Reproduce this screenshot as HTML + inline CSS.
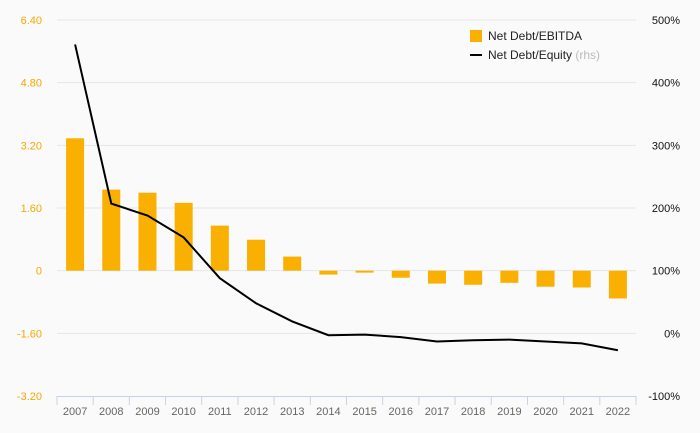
<!DOCTYPE html>
<html><head><meta charset="utf-8"><style>
body{margin:0;background:#fafafa;font-family:"Liberation Sans",sans-serif}
svg{display:block}
</style></head><body>
<svg id="c" width="700" height="433"></svg>
<script>
const categories=["2007","2008","2009","2010","2011","2012","2013","2014","2015","2016","2017","2018","2019","2020","2021","2022"];
const ebitdaValues=[3.38,2.07,1.99,1.73,1.15,0.79,0.36,-0.10,-0.05,-0.18,-0.33,-0.36,-0.31,-0.41,-0.43,-0.71];
const equityValues=[461,207,188,153,88,48,19,-3,-2,-6,-13,-11,-10,-13,-16,-27];
const leftTicks=[-3.2,-1.6,0,1.6,3.2,4.8,6.4];
const leftTickLabels=["-3.20","-1.60","0","1.60","3.20","4.80","6.40"];
const rightTicks=[-100,0,100,200,300,400,500];
const svg=document.getElementById('c');
const NS='http://www.w3.org/2000/svg';
const X0=57,X1=636,YT=20,YB=396;
const bw=(X1-X0)/categories.length;
const yL=v=>YB-(v+3.2)/9.6*(YB-YT);
const yR=v=>YB-(v+100)/600*(YB-YT);
const xC=i=>X0+bw*(i+0.5);
function mk(t,a,txt){const e=document.createElementNS(NS,t);for(const k in a)e.setAttribute(k,a[k]);if(txt!=null)e.textContent=txt;svg.appendChild(e);return e;}
leftTicks.forEach((v,i)=>{
  if(i>0){const g=mk('line',{x1:X0,x2:X1,y1:yL(v),y2:yL(v),stroke:'#e6e6e6','stroke-width':1});
  
  }
  const t=mk('text',{x:42,y:yL(v)+4,'text-anchor':'end','font-size':11,fill:'#f5a800'},leftTickLabels[i]);
  
  
});
rightTicks.forEach(v=>{
  const t=mk('text',{x:680,y:yR(v)+4,'text-anchor':'end','font-size':11,fill:'#111'},v+'%');
  
  
});
ebitdaValues.forEach((v,i)=>{
  const y0=yL(0),y1=yL(v);
  const r=mk('rect',{x:xC(i)-9,y:Math.min(y0,y1),width:18,height:Math.abs(y1-y0),fill:'#f9b000'});
  
  
});
const ax=mk('line',{x1:X0,x2:X1,y1:YB+0.5,y2:YB+0.5,stroke:'#c5d3ea'});


for(let i=0;i<=categories.length;i++){
  const x=X0+bw*i;
  const tk=mk('line',{x1:x,x2:x,y1:YB,y2:YB+9,stroke:'#c5d3ea'});
  
  
}
categories.forEach((c,i)=>{
  const t=mk('text',{x:xC(i),y:415,'text-anchor':'middle','font-size':11,fill:'#666'},c);
  
  
});
const pts=equityValues.map((v,i)=>xC(i)+','+yR(v)).join(' ');
const pl=mk('polyline',{points:pts,fill:'none',stroke:'#000','stroke-width':2});


const l1=mk('rect',{x:470,y:30,width:12,height:12,fill:'#f9b000'});


const t1=mk('text',{x:488,y:40,'font-size':12,fill:'#222'},'Net Debt/EBITDA');


const l2=mk('line',{x1:470,x2:482,y1:55,y2:55,stroke:'#000','stroke-width':2});


const t2=mk('text',{x:488,y:59,'font-size':12,fill:'#222'},'Net Debt/Equity ');


const ts=document.createElementNS(NS,'tspan');ts.setAttribute('fill','#bbb');ts.textContent='(rhs)';t2.appendChild(ts);
</script>
</body></html>
